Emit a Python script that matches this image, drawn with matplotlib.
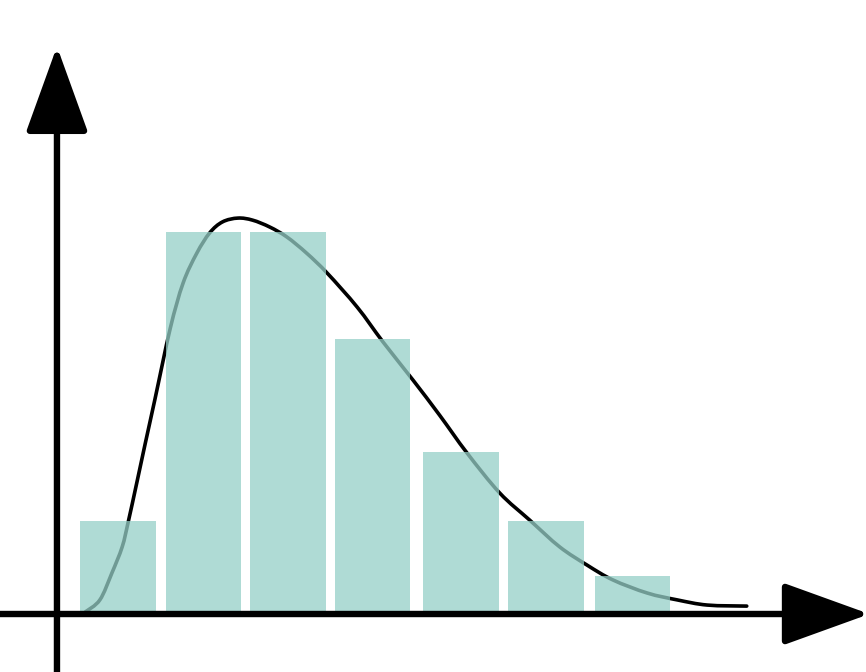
import matplotlib
matplotlib.use("Agg")
import matplotlib.pyplot as plt
from matplotlib.path import Path
from matplotlib.patches import PathPatch
import numpy as np

# histogram bins (left edge of each bar) and their heights
bin_lefts = [0.27, 1.27, 2.25, 3.24, 4.27, 5.26, 6.27]
bar_heights = [2.7, 11.1, 11.1, 8.0, 4.7, 2.7, 1.1]
bar_width = 0.88

# density curve
curve_x = [0.33, 0.50, 0.64, 0.76, 0.83, 0.93, 1.03, 1.14, 1.32, 1.47,
           1.63, 1.78, 1.93, 2.11, 2.28, 2.48, 2.68, 2.91, 3.15, 3.50, 3.80,
           4.15, 4.46, 4.78, 5.16, 5.51, 5.86, 6.18, 6.48, 6.88, 7.23, 7.58,
           8.04]
curve_y = [0.06, 0.41, 1.19, 1.95, 2.67, 3.81, 4.97, 6.22, 8.30, 9.62,
           10.49, 11.08, 11.40, 11.51, 11.45, 11.25, 10.96, 10.49, 9.91, 8.92,
           7.91, 6.80, 5.78, 4.68, 3.52, 2.73, 1.95, 1.42, 0.99, 0.61, 0.41,
           0.26, 0.23]


def smooth_path(xs, ys):
    # catmull-rom through the points, written as cubic bezier segments
    p = np.column_stack([xs, ys])
    p = np.vstack([p[0], p, p[-1]])
    verts = [p[1]]
    codes = [Path.MOVETO]
    for i in range(1, len(p) - 2):
        c1 = p[i] + (p[i + 1] - p[i - 1]) / 6
        c2 = p[i + 1] - (p[i + 2] - p[i]) / 6
        verts += [c1, c2, p[i + 1]]
        codes += [Path.CURVE4] * 3
    return Path(verts, codes)


fig = plt.figure(figsize=(8.66, 6.72), dpi=100)
ax = fig.add_axes([0, 0, 1, 1])
ax.set_xlim(-0.664, 9.43)
ax.set_ylim(-1.686, 17.85)
ax.axis('off')

# curve first, bars are see-through on top of it
ax.add_patch(PathPatch(smooth_path(curve_x, curve_y), fill=False,
                       edgecolor='black', lw=2.6, zorder=1,
                       capstyle='round', joinstyle='round'))
ax.bar(bin_lefts, bar_heights, width=bar_width, align='edge',
       color='#95cfc7', alpha=0.75, linewidth=0, zorder=2)

# axes with arrow heads
arrow = dict(arrowstyle='-|>,head_length=5.4,head_width=1.95', lw=4.6,
             color='black', shrinkA=0, shrinkB=0)
ax.annotate('', xy=(0, 16.5), xytext=(0, -1.7), arrowprops=arrow, zorder=3,
            annotation_clip=False)
ax.annotate('', xy=(9.47, 0), xytext=(-0.7, 0), arrowprops=arrow, zorder=3,
            annotation_clip=False)

fig.savefig('out.png', dpi=100)
